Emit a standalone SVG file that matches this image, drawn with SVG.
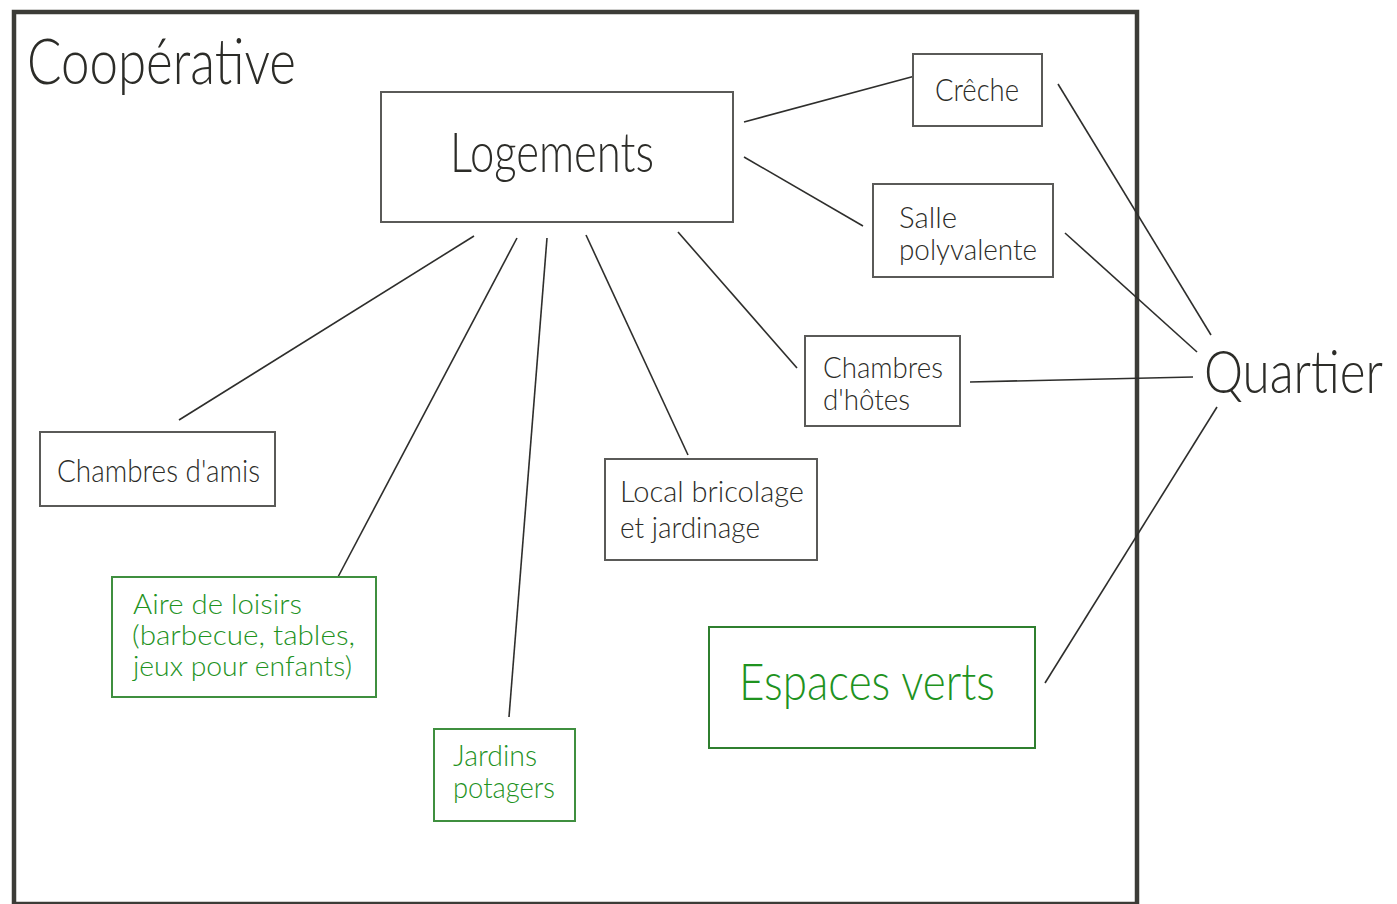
<svg xmlns="http://www.w3.org/2000/svg" width="1397" height="904" viewBox="0 0 1397 904">
<style>
text{font-family:Lato,"Open Sans","DejaVu Sans",sans-serif;fill:#2c2c28;font-weight:300}
.g text,text.g{fill:#1f931f}
.box{fill:#fff;stroke:#5a5a58;stroke-width:2}
.gbox{fill:#fff;stroke:#3f8f3f;stroke-width:2}
.conn line{stroke:#2e2e2c;stroke-width:1.6}
.s{font-size:31px}
.m{font-size:29px}
.t{font-size:27px}
</style>
<rect width="1397" height="904" fill="#fff"/>
<g id="cooperative">
<rect x="14" y="12" width="1123" height="892" fill="none" stroke="#3c3c37" stroke-width="4.5"/>
<text x="27" y="84" font-size="64" textLength="269" lengthAdjust="spacingAndGlyphs">Coopérative</text>
</g>
<g class="conn" id="connectors">
<line x1="744" y1="122" x2="915" y2="76" stroke-width="2.4"/>
<line x1="744" y1="157" x2="863" y2="226"/>
<line x1="474" y1="236" x2="179" y2="420"/>
<line x1="517" y1="238" x2="338" y2="577"/>
<line x1="547" y1="238" x2="509" y2="717"/>
<line x1="586" y1="235" x2="688" y2="455"/>
<line x1="678" y1="232" x2="797" y2="368"/>
<line x1="1058" y1="84" x2="1211" y2="335"/>
<line x1="1065" y1="233" x2="1197" y2="352"/>
<line x1="970" y1="382" x2="1193" y2="377"/>
<line x1="1045" y1="683" x2="1217" y2="407"/>
</g>
<g id="logements">
<rect class="box" x="381" y="92" width="352" height="130"/>
<text x="450" y="172" font-size="56" textLength="204" lengthAdjust="spacingAndGlyphs">Logements</text>
</g>
<g id="creche">
<rect class="box" x="913" y="54" width="129" height="72"/>
<text class="s" x="935" y="101" textLength="84" lengthAdjust="spacingAndGlyphs">Crêche</text>
</g>
<g id="salle">
<rect class="box" x="873" y="184" width="180" height="93"/>
<text class="m" x="899" y="228" textLength="58" lengthAdjust="spacingAndGlyphs">Salle</text>
<text class="m" x="899" y="260" textLength="138" lengthAdjust="spacingAndGlyphs">polyvalente</text>
</g>
<g id="chambres-hotes">
<rect class="box" x="805" y="336" width="155" height="90"/>
<text class="m" x="823" y="378" textLength="120" lengthAdjust="spacingAndGlyphs">Chambres</text>
<text class="m" x="823" y="410" textLength="87" lengthAdjust="spacingAndGlyphs">d'hôtes</text>
</g>
<g id="quartier">
<text x="1204" y="393" font-size="60" textLength="179" lengthAdjust="spacingAndGlyphs">Quartier</text>
</g>
<g id="chambres-amis">
<rect class="box" x="40" y="432" width="235" height="74"/>
<text class="s" x="57" y="482" textLength="203" lengthAdjust="spacingAndGlyphs">Chambres d'amis</text>
</g>
<g id="local">
<rect class="box" x="605" y="459" width="212" height="101"/>
<text class="m" x="620" y="502" textLength="184" lengthAdjust="spacingAndGlyphs">Local bricolage</text>
<text class="m" x="620" y="538" textLength="140" lengthAdjust="spacingAndGlyphs">et jardinage</text>
</g>
<g id="aire" class="g">
<rect class="gbox" x="112" y="577" width="264" height="120"/>
<text class="t" x="133" y="614" textLength="169" lengthAdjust="spacingAndGlyphs">Aire de loisirs</text>
<text class="t" x="132" y="645" textLength="223" lengthAdjust="spacingAndGlyphs">(barbecue, tables,</text>
<text class="t" x="133" y="676" textLength="219" lengthAdjust="spacingAndGlyphs">jeux pour enfants)</text>
</g>
<g id="jardins" class="g">
<rect class="gbox" x="434" y="729" width="141" height="92"/>
<text class="m" x="453" y="766" textLength="84" lengthAdjust="spacingAndGlyphs">Jardins</text>
<text class="m" x="453" y="798" textLength="102" lengthAdjust="spacingAndGlyphs">potagers</text>
</g>
<g id="espaces" class="g">
<rect class="gbox" x="709" y="627" width="326" height="121" stroke-width="3" style="stroke:#2f7f2f"/>
<text x="739" y="700" font-size="52" textLength="256" lengthAdjust="spacingAndGlyphs">Espaces verts</text>
</g>
</svg>
